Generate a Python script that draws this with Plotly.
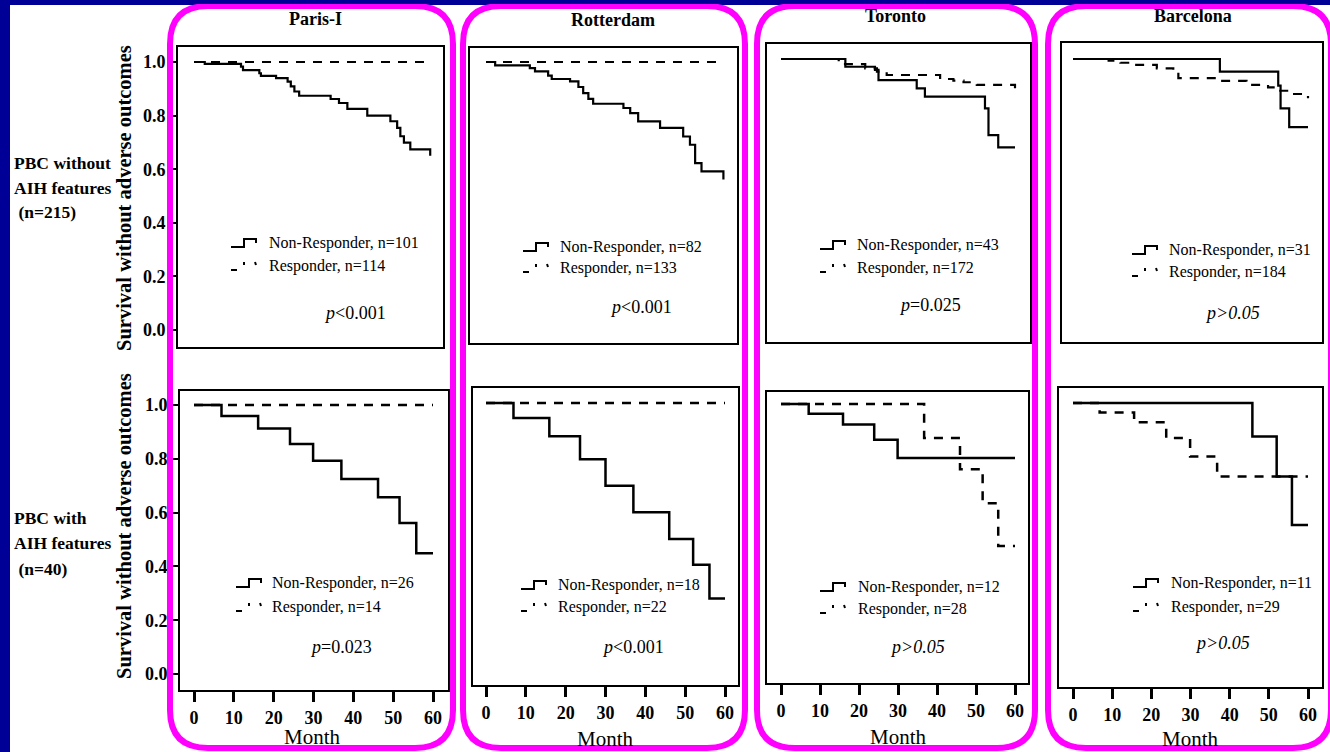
import plotly.graph_objects as go

# ---------------- data ----------------
centres = ["Paris-I", "Rotterdam", "Toronto", "Barcelona"]
x_ticks = [0, 10, 20, 30, 40, 50, 60]
y_ticks = [0.0, 0.2, 0.4, 0.6, 0.8, 1.0]

# PBC without AIH features (top row)
paris_top_nr_t = [0, 2.7, 11.8, 12.3, 16.4, 16.8, 20.6, 23.5, 24.3, 25.2, 26.4, 34.3, 36.4, 38.5, 43.5, 49.3, 51.0, 51.8, 52.7, 54.3, 59.3]
paris_top_nr_s = [1.0, 0.993, 0.983, 0.970, 0.958, 0.948, 0.940, 0.927, 0.909, 0.890, 0.874, 0.862, 0.847, 0.825, 0.800, 0.779, 0.754, 0.723, 0.699, 0.674, 0.650]
paris_top_r_t = [0, 59.3]
paris_top_r_s = [1.0, 1.0]

rott_top_nr_t = [0, 2.3, 11.0, 12.3, 15.6, 16.5, 21.1, 23.2, 24.4, 25.7, 26.9, 34.5, 36.2, 38.2, 43.7, 49.5, 51.2, 52.5, 54.1, 59.6]
rott_top_nr_s = [1.0, 0.987, 0.977, 0.965, 0.949, 0.936, 0.927, 0.906, 0.883, 0.861, 0.843, 0.827, 0.808, 0.777, 0.752, 0.720, 0.689, 0.620, 0.589, 0.558]
rott_top_r_t = [0, 59.6]
rott_top_r_s = [1.0, 1.0]

tor_top_nr_t = [0, 16.5, 24.1, 25.0, 34.8, 36.9, 52.3, 53.2, 55.7, 60.0]
tor_top_nr_s = [1.0, 0.971, 0.959, 0.921, 0.890, 0.859, 0.815, 0.715, 0.669, 0.669]
tor_top_r_t = [0, 14.8, 21.6, 24.6, 27.1, 40.8, 44.2, 46.8, 50.2, 60.0]
tor_top_r_s = [1.0, 0.981, 0.965, 0.953, 0.940, 0.925, 0.919, 0.913, 0.903, 0.890]

bar_top_nr_t = [0, 37.5, 52.4, 53.0, 55.2, 60.0]
bar_top_nr_s = [1.0, 0.953, 0.900, 0.815, 0.745, 0.745]
bar_top_r_t = [0, 9.1, 12.1, 14.6, 21.4, 25.6, 26.9, 36.7, 44.3, 49.8, 52.4, 55.3, 60.0]
bar_top_r_s = [1.0, 0.994, 0.986, 0.978, 0.965, 0.953, 0.928, 0.918, 0.903, 0.894, 0.881, 0.869, 0.853]

# PBC with AIH features (bottom row)
paris_bot_nr_t = [0, 6.9, 16.1, 24.1, 29.9, 37.0, 46.2, 51.6, 55.8, 60.0]
paris_bot_nr_s = [1.0, 0.959, 0.913, 0.855, 0.793, 0.725, 0.657, 0.561, 0.449, 0.449]
paris_bot_r_t = [0, 60.0]
paris_bot_r_s = [1.0, 1.0]

rott_bot_nr_t = [0, 6.9, 15.9, 23.6, 30.0, 37.0, 46.0, 52.0, 56.1, 60.0]
rott_bot_nr_s = [1.0, 0.944, 0.875, 0.789, 0.689, 0.589, 0.489, 0.392, 0.265, 0.265]
rott_bot_r_t = [0, 60.0]
rott_bot_r_s = [1.0, 1.0]

tor_bot_nr_t = [0, 7.1, 15.9, 23.9, 29.9, 60.0]
tor_bot_nr_s = [1.0, 0.963, 0.922, 0.865, 0.795, 0.795]
tor_bot_r_t = [0, 36.7, 45.9, 51.7, 55.7, 60.0]
tor_bot_r_s = [1.0, 0.871, 0.753, 0.624, 0.462, 0.462]

bar_bot_nr_t = [0, 45.8, 52.0, 55.9, 60.0]
bar_bot_nr_s = [1.0, 0.875, 0.726, 0.545, 0.545]
bar_bot_r_t = [0, 6.8, 15.6, 23.8, 29.9, 36.8, 60.0]
bar_bot_r_s = [1.0, 0.965, 0.928, 0.869, 0.800, 0.726, 0.726]

nr_n = [101, 82, 43, 31, 26, 18, 12, 11]
r_n = [114, 133, 172, 184, 14, 22, 28, 29]
p_values = ["p<0.001", "p<0.001", "p=0.025", "p>0.05", "p=0.023", "p<0.001", "p>0.05", "p>0.05"]
row_labels = [["PBC without", "AIH features", " (n=215)"], ["PBC with", "AIH features", " (n=40)"]]

curves = [
    (paris_top_nr_t, paris_top_nr_s, paris_top_r_t, paris_top_r_s),
    (rott_top_nr_t, rott_top_nr_s, rott_top_r_t, rott_top_r_s),
    (tor_top_nr_t, tor_top_nr_s, tor_top_r_t, tor_top_r_s),
    (bar_top_nr_t, bar_top_nr_s, bar_top_r_t, bar_top_r_s),
    (paris_bot_nr_t, paris_bot_nr_s, paris_bot_r_t, paris_bot_r_s),
    (rott_bot_nr_t, rott_bot_nr_s, rott_bot_r_t, rott_bot_r_s),
    (tor_bot_nr_t, tor_bot_nr_s, tor_bot_r_t, tor_bot_r_s),
    (bar_bot_nr_t, bar_bot_nr_s, bar_bot_r_t, bar_bot_r_s),
]

# ---------------- layout geometry (pixels) ----------------
W, H = 1330, 752
NAVY = "rgb(0,0,150)"
MAG = "#ff00ff"
SERIF = "Liberation Serif, Times New Roman, serif"


def fx(px):
    return px / W


def fy(py):
    return 1 - py / H


# box L, R, T, B ; pixel of y=0, pixel of y=1 ; pixel of x=0, pixel of x=60
panels = [
    (178, 443, 47, 347, 330, 62, 194, 433),
    (470, 737, 48, 343, 328, 62, 486, 725),
    (767, 1030, 44, 342, 326, 59, 781, 1015),
    (1062, 1322, 43, 342, 326, 59, 1073, 1308),
    (180, 448, 391, 690, 674, 405, 194, 433),
    (473, 738, 388, 685, 669, 403, 486, 725),
    (767, 1028, 392, 683, 668, 404, 781, 1015),
    (1059, 1322, 388, 687, 671, 403, 1073, 1308),
]
legend_pos = [(231, 267, 243, 266), (523, 558, 247, 268), (820, 855, 245, 268), (1132, 1167, 250, 272),
              (236, 270, 583, 607), (521, 556, 585, 607), (820, 856, 587, 609), (1133, 1169, 583, 607)]
p_pos = [(355, 313), (641, 307), (930, 305), (1232, 313), (341, 647), (633, 647), (917, 647), (1222, 643)]
title_pos = [(315, 19), (613, 20), (895, 16), (1193, 16)]
month_pos = [(312, 737), (605, 739), (898, 737), (1190, 739)]
boxes = [(170, 6, 453, 748), (463, 6, 745, 748), (757, 6, 1035, 748), (1048, 6, 1331, 748)]

fig = go.Figure()
layout = dict(
    width=W, height=H, margin=dict(l=0, r=0, t=0, b=0), autosize=False,
    paper_bgcolor=NAVY, plot_bgcolor="rgba(0,0,0,0)", showlegend=False,
)
shapes = [dict(type="rect", xref="paper", yref="paper", x0=fx(10), x1=fx(W + 5), y0=fy(5), y1=fy(H + 5),
               fillcolor="white", line=dict(width=0), layer="below")]
annotations = []

for i, (L, R, T, B, y0p, y1p, x0p, x60p) in enumerate(panels):
    n = i + 1
    xa = "xaxis" if n == 1 else f"xaxis{n}"
    ya = "yaxis" if n == 1 else f"yaxis{n}"
    k = (x60p - x0p) / 60.0
    xr = [(L - x0p) / k, (R - x0p) / k]
    yr = [(y0p - B) / (y0p - y1p), (y0p - T) / (y0p - y1p)]
    bottom = i >= 4
    layout[xa] = dict(
        domain=[fx(L), fx(R)], range=xr, anchor=f"y{'' if n == 1 else n}",
        showgrid=False, zeroline=False, showline=True, linecolor="black", linewidth=2, mirror=True,
        tickmode="array", tickvals=x_ticks, ticks="outside" if bottom else "",
        ticklen=10, tickwidth=2.5, tickcolor="black", showticklabels=bottom,
        tickfont=dict(family=SERIF, size=18, color="black", weight="bold"),
    )
    paris = i % 4 == 0
    layout[ya] = dict(
        domain=[fy(B), fy(T)], range=yr, anchor=f"x{'' if n == 1 else n}",
        showgrid=False, zeroline=False, showline=True, linecolor="black", linewidth=2, mirror=True,
        tickmode="array", tickvals=y_ticks, tickformat=".1f", ticks="outside" if paris else "",
        ticklen=7, tickwidth=2, tickcolor="black", showticklabels=paris,
        tickfont=dict(family=SERIF, size=18, color="black", weight="bold"),
    )
    nr_t, nr_s, r_t, r_s = curves[i]
    lw = 2.5 if bottom else 2.2
    xs = "x" if n == 1 else f"x{n}"
    ys = "y" if n == 1 else f"y{n}"
    fig.add_trace(go.Scatter(x=r_t, y=r_s, mode="lines", xaxis=xs, yaxis=ys,
                             line=dict(shape="hv", color="black", width=lw, dash="9px,8px"), hoverinfo="skip"))
    fig.add_trace(go.Scatter(x=nr_t, y=nr_s, mode="lines", xaxis=xs, yaxis=ys,
                             line=dict(shape="hv", color="black", width=lw), hoverinfo="skip"))

    # legend inside panel
    ix, tx, ly1, ly2 = legend_pos[i]
    path = (f"M {fx(ix)},{fy(ly1 + 4)} L {fx(ix + 13)},{fy(ly1 + 4)} L {fx(ix + 13)},{fy(ly1 - 4)} "
            f"L {fx(ix + 25)},{fy(ly1 - 4)} L {fx(ix + 25)},{fy(ly1)}")
    shapes.append(dict(type="path", xref="paper", yref="paper", path=path,
                       line=dict(color="black", width=2)))
    for a, b, c, d in [(ix, ly2 + 4, ix + 6, ly2 + 4), (ix + 13, ly2 - 4, ix + 13, ly2 - 1),
                       (ix + 24, ly2 - 4, ix + 25, ly2 - 1)]:
        shapes.append(dict(type="line", xref="paper", yref="paper", x0=fx(a), y0=fy(b), x1=fx(c), y1=fy(d),
                           line=dict(color="black", width=2)))
    annotations.append(dict(x=fx(tx), y=fy(ly1), xref="paper", yref="paper", xanchor="left", yanchor="middle",
                            text=f"Non-Responder, n={nr_n[i]}", showarrow=False,
                            font=dict(family=SERIF, size=16, color="black")))
    annotations.append(dict(x=fx(tx), y=fy(ly2), xref="paper", yref="paper", xanchor="left", yanchor="middle",
                            text=f"Responder, n={r_n[i]}", showarrow=False,
                            font=dict(family=SERIF, size=16, color="black")))
    pv = p_values[i]
    if pv.startswith("p>"):
        ptxt = "<i>p&gt;" + pv[2:] + "</i>"
    else:
        ptxt = "<i>p</i>" + pv[1:].replace("<", "&lt;")
    px_, py_ = p_pos[i]
    annotations.append(dict(x=fx(px_), y=fy(py_), xref="paper", yref="paper", xanchor="center", yanchor="middle",
                            text=ptxt, showarrow=False, font=dict(family=SERIF, size=18, color="black")))

# column titles and Month labels
for j, name in enumerate(centres):
    tx, ty = title_pos[j]
    annotations.append(dict(x=fx(tx), y=fy(ty), xref="paper", yref="paper", xanchor="center", yanchor="middle",
                            text=f"<b>{name}</b>", showarrow=False, font=dict(family=SERIF, size=18, color="black")))
    mx, my = month_pos[j]
    annotations.append(dict(x=fx(mx), y=fy(my), xref="paper", yref="paper", xanchor="center", yanchor="middle",
                            text="Month", showarrow=False, font=dict(family=SERIF, size=21, color="black")))

# row labels and y-axis titles
row_label_y = [(163, 188, 212), (518, 543, 569)]
ytitle_y = [198, 526]
for r in range(2):
    for line, yy in zip(row_labels[r], row_label_y[r]):
        annotations.append(dict(x=fx(12), y=fy(yy), xref="paper", yref="paper", xanchor="left", yanchor="middle",
                                text=f"<b>{line}</b>", showarrow=False,
                                font=dict(family=SERIF, size=17.5, color="black")))
    annotations.append(dict(x=fx(124), y=fy(ytitle_y[r]), xref="paper", yref="paper", xanchor="center",
                            yanchor="middle", textangle=-90, text="<b>Survival without adverse outcomes</b>",
                            showarrow=False, font=dict(family=SERIF, size=20.5, color="black")))

# magenta rounded frames
def rrect(x0, y0, x1, y1, r):
    pts = [("M", [(x0 + r, y0)]), ("L", [(x1 - r, y0)]), ("Q", [(x1, y0), (x1, y0 + r)]),
           ("L", [(x1, y1 - r)]), ("Q", [(x1, y1), (x1 - r, y1)]), ("L", [(x0 + r, y1)]),
           ("Q", [(x0, y1), (x0, y1 - r)]), ("L", [(x0, y0 + r)]), ("Q", [(x0, y0), (x0 + r, y0)])]
    out = []
    for cmd, ps in pts:
        out.append(cmd + " " + " ".join(f"{fx(a)},{fy(b)}" for a, b in ps))
    return " ".join(out) + " Z"


for (a, b, c, d) in boxes:
    shapes.append(dict(type="path", xref="paper", yref="paper", path=rrect(a, b, c, d, 38),
                       line=dict(color=MAG, width=6), layer="above"))

# navy strip at very top
shapes.append(dict(type="rect", xref="paper", yref="paper", x0=0, x1=1, y0=fy(4), y1=1,
                   fillcolor=NAVY, line=dict(width=0), layer="above"))

layout["shapes"] = shapes
layout["annotations"] = annotations
fig.update_layout(**layout)
fig.write_html(
    "out.html",
    config={"displayModeBar": False},
    post_script="document.body.style.margin='0';document.body.style.padding='0';"
                "document.documentElement.style.overflow='hidden';",
)
